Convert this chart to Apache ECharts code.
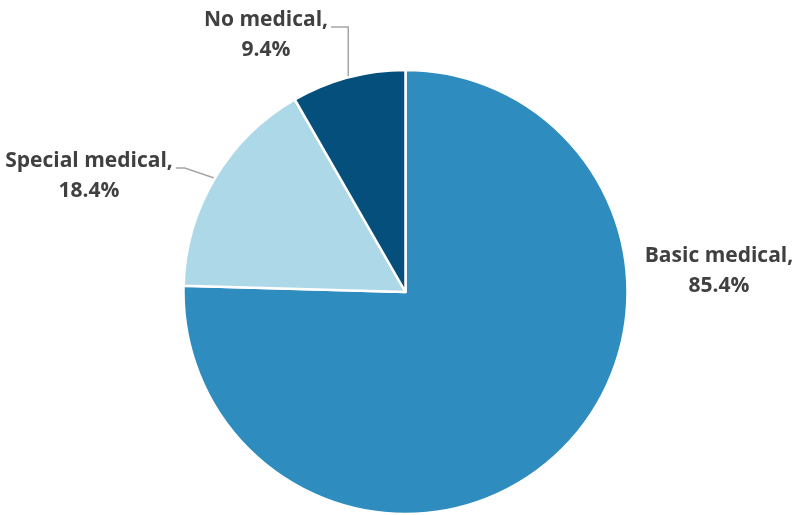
<!DOCTYPE html>
<html>
<head>
<meta charset="utf-8">
<script src="https://cdn.jsdelivr.net/npm/echarts@6/dist/echarts.min.js"></script>
<style>
  html, body { margin: 0; padding: 0; background: #fff; }
  #chart { width: 798px; height: 515px; }
</style>
</head>
<body>
<div id="chart"></div>
<script>
const categories = ['Basic medical', 'Special medical', 'No medical']
const shares = [85.4, 18.4, 9.4]
const colors = ['#2E8CBF', '#ADD8E8', '#044F7B']

// where each label sits (center of the two-line block)
const labelSpots = [
  { x: 719, y: 271 },
  { x: 89, y: 176 },
  { x: 266, y: 35 }
]

const chart = echarts.init(document.getElementById('chart'))
chart.setOption({
  animation: false,
  series: [{
    type: 'pie',
    center: [405.5, 292],
    radius: 222,
    startAngle: 90,
    clockwise: true,
    data: categories.map((name, i) => ({
      name,
      value: shares[i],
      itemStyle: { color: colors[i] },
      labelLine: { show: i !== 0 }
    })),
    itemStyle: { borderColor: '#fff', borderWidth: 2.5 },
    label: {
      position: 'outside',
      formatter: '{b},\n{c}%',
      fontFamily: 'Open Sans',
      fontWeight: 'bold',
      fontSize: 21,
      lineHeight: 30,
      color: '#404040',
      align: 'center'
    },
    labelLine: {
      lineStyle: { color: '#A6A6A6', width: 1.5 },
      length: 12,
      length2: 12
    },
    labelLayout: (params) => {
      const spot = labelSpots[params.dataIndex]
      const out = { x: spot.x, y: spot.y, align: 'center', verticalAlign: 'middle' }
      const pts = params.labelLinePoints
      if (pts && params.dataIndex > 0) {
        // excel style leader: short tail off the first line, then to the slice midpoint
        const right = spot.x + params.labelRect.width / 2
        const ly = spot.y - 8
        let elbowX = right + 12
        // nearly above the slice -> drop straight down like excel does
        if (Math.abs(pts[0][0] - elbowX) < 20) elbowX = pts[0][0]
        out.labelLinePoints = [pts[0], [elbowX, ly], [right + 3, ly]]
      }
      return out
    }
  }]
})
</script>
</body>
</html>
